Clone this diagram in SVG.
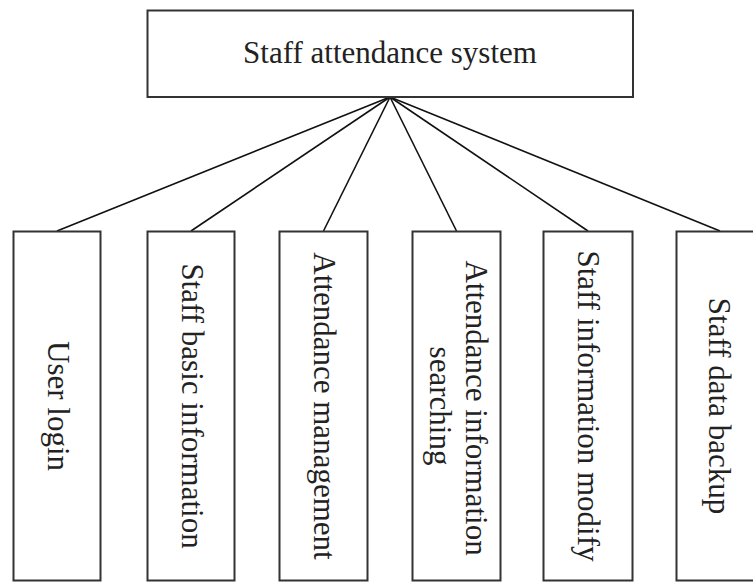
<svg xmlns="http://www.w3.org/2000/svg" width="753" height="582" viewBox="0 0 753 582">
<style>
.box{fill:#fff;stroke:#333;stroke-width:2}
.lbl{font-family:"Liberation Serif","Times New Roman",serif;font-size:31px;fill:#222;text-anchor:middle}
.con{stroke:#111;stroke-width:1.6;fill:none}
</style>
<rect width="753" height="582" fill="#fff"/>
<g id="connectors">
<line class="con" x1="390" y1="97" x2="57" y2="231"/>
<line class="con" x1="390" y1="97" x2="191" y2="231"/>
<line class="con" x1="390" y1="97" x2="323.5" y2="231"/>
<line class="con" x1="390" y1="97" x2="456.5" y2="231"/>
<line class="con" x1="390" y1="97" x2="588" y2="231"/>
<line class="con" x1="390" y1="97" x2="720" y2="231"/>
</g>
<g id="root">
<rect class="box" x="147.5" y="10.5" width="485.5" height="86.5"/>
<text class="lbl" x="390" y="63">Staff attendance system</text>
</g>
<g id="user-login">
<rect class="box" x="13.5" y="231.5" width="87" height="349"/>
<text class="lbl" transform="translate(48,406) rotate(90)">User login</text>
</g>
<g id="staff-basic-information">
<rect class="box" x="147.5" y="231.5" width="87" height="349"/>
<text class="lbl" transform="translate(182,406) rotate(90)">Staff basic information</text>
</g>
<g id="attendance-management">
<rect class="box" x="279.5" y="231.5" width="88" height="349"/>
<text class="lbl" transform="translate(314,406) rotate(90)">Attendance management</text>
</g>
<g id="attendance-information-searching">
<rect class="box" x="412.5" y="231.5" width="88" height="349"/>
<text class="lbl" transform="translate(466,408) rotate(90)">Attendance information</text>
<text class="lbl" transform="translate(430,406) rotate(90)">searching</text>
</g>
<g id="staff-information-modify">
<rect class="box" x="543.5" y="231.5" width="89" height="349"/>
<text class="lbl" transform="translate(578,406) rotate(90)">Staff information modify</text>
</g>
<g id="staff-data-backup">
<rect class="box" x="676.5" y="231.5" width="88" height="349"/>
<text class="lbl" transform="translate(709,406) rotate(90)">Staff data backup</text>
</g>
</svg>
